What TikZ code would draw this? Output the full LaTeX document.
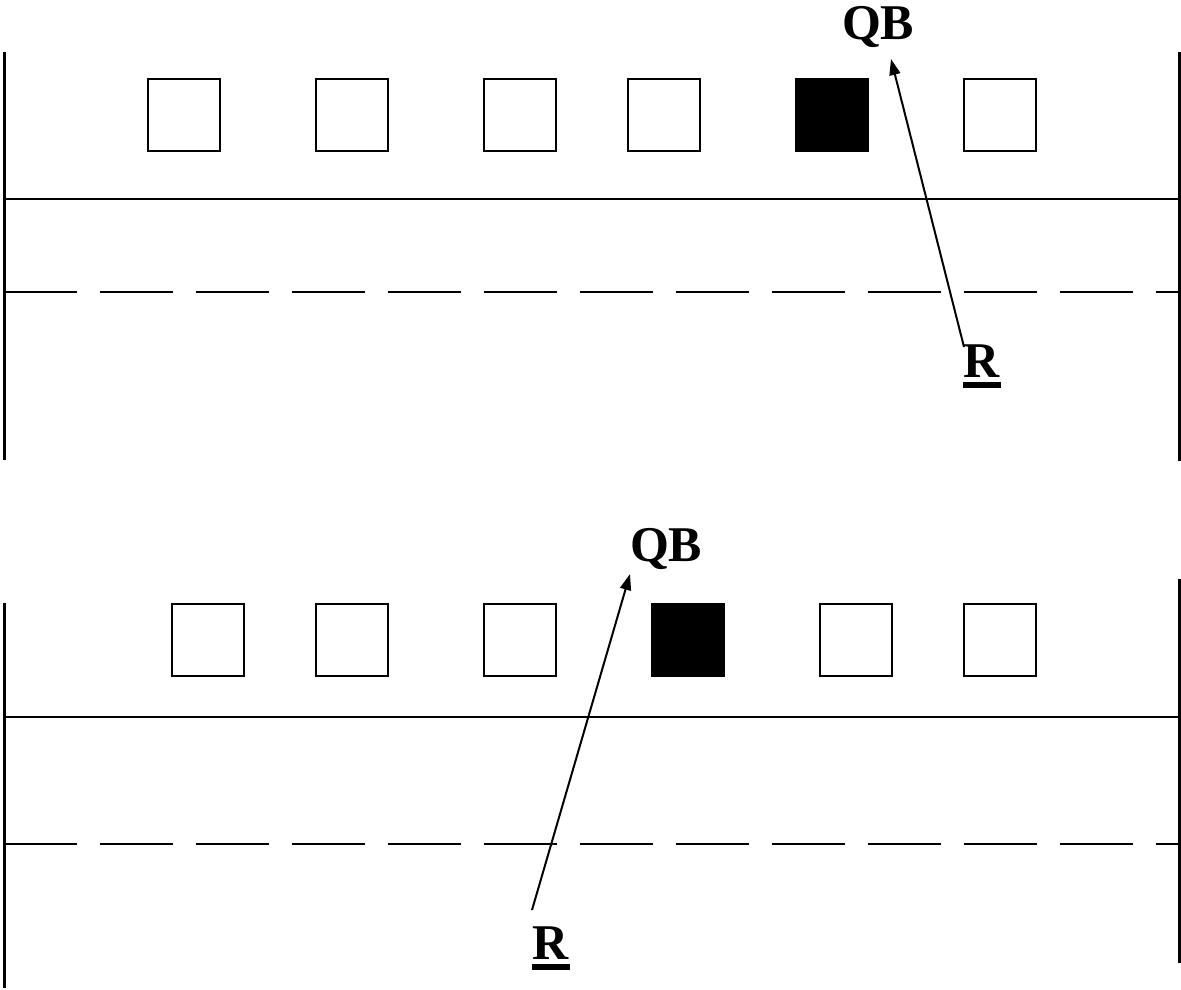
\documentclass[tikz,border=0pt]{standalone}
\usepackage{fontspec}
\setmainfont{Liberation Serif}
\usetikzlibrary{arrows.meta}
\tikzset{
  wall/.style={line width=3pt},
  road/.style={line width=2pt},
  lane/.style={line width=2pt, dash pattern=on 73pt off 23pt},
  stall/.style={draw, line width=2pt, minimum width=72pt, minimum height=72pt, inner sep=0pt, outer sep=0pt, anchor=north west},
  taken/.style={stall, fill=black},
  lbl/.style={inner sep=0pt, outer sep=0pt, anchor=base west, font=\bfseries\fontsize{50}{60}\selectfont},
  ptr/.style={line width=2pt, -{Triangle[length=16pt,width=11pt]}}
}
\newcommand{\ulR}{\rlap{\rule[-11pt]{38pt}{6pt}}R}
\begin{document}
\begin{tikzpicture}[x=1pt,y=-1pt]
\useasboundingbox (0,0) rectangle (1181,989);
% ---------- top panel ----------
\draw[wall] (4,52) -- (4,460);
\draw[wall] (1179,52) -- (1179,461);
\draw[road] (4,199) -- (1179,199);
\draw[lane] (4,292) -- (1179,292);
\node[stall] (a1) at (148,79) {};
\node[stall] (a2) at (316,79) {};
\node[stall] (a3) at (484,79) {};
\node[stall] (a4) at (628,79) {};
\node[taken] (a5) at (796,79) {};
\node[stall] (a6) at (964,79) {};
\node[lbl] (qb1) at (842,39) {QB};
\node[lbl] (r1) at (963,377) {\ulR};
\coordinate (r1s) at (964,347);
\coordinate (qb1e) at (891,59);
\draw[ptr] (r1s) -- (qb1e);
% ---------- bottom panel ----------
\draw[wall] (4,603) -- (4,988);
\draw[wall] (1179,579) -- (1179,963);
\draw[road] (4,717) -- (1179,717);
\draw[lane] (4,844) -- (1179,844);
\node[stall] (b1) at (172,604) {};
\node[stall] (b2) at (316,604) {};
\node[stall] (b3) at (484,604) {};
\node[taken] (b4) at (652,604) {};
\node[stall] (b5) at (820,604) {};
\node[stall] (b6) at (964,604) {};
\node[lbl] (qb2) at (630,561) {QB};
\node[lbl] (r2) at (532,959) {\ulR};
\coordinate (r2s) at (532,910);
\coordinate (qb2e) at (630,574);
\draw[ptr] (r2s) -- (qb2e);
\end{tikzpicture}
\end{document}
